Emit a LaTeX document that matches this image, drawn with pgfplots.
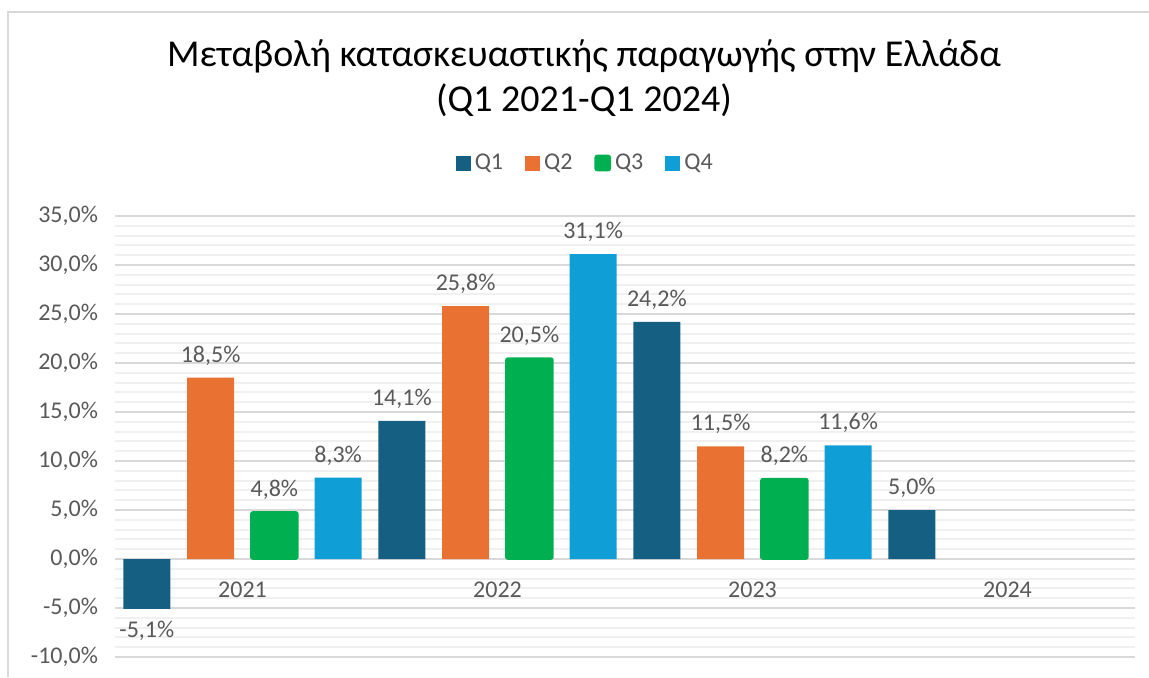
\documentclass[border=0pt]{standalone}
\usepackage{pgfplots}
\pgfplotsset{compat=1.18}
\usepackage{fontspec}
\setmainfont{Carlito}
\definecolor{qa}{HTML}{156082}
\definecolor{qb}{HTML}{E97132}
\definecolor{qc}{HTML}{00B050}
\definecolor{qd}{HTML}{0F9ED5}
\definecolor{txt}{HTML}{595959}
\definecolor{majg}{HTML}{D9D9D9}
\definecolor{ming}{HTML}{F0F0F0}
\begin{document}
\begin{tikzpicture}
\useasboundingbox (0,0) rectangle (574.5pt,338.5pt);
\draw[majg, line width=1pt] (4pt,0) -- (4pt,332.5pt) -- (574.5pt,332.5pt);
\node[align=center, font=\fontsize{19pt}{22.5pt}\selectfont] at (292pt,299.5pt)
  {Μεταβολή κατασκευαστικής παραγωγής στην Ελλάδα\\(Q1 2021-Q1 2024)};
\begin{axis}[
  at={(57.5pt,10pt)}, anchor=south west,
  scale only axis, width=510pt, height=220.5pt,
  xmin=-0.5, xmax=15.5, ymin=-10, ymax=35,
  axis x line=middle, axis y line=left,
  x axis line style={draw=majg, line width=1pt, -},
  y axis line style={draw=none},
  major tick length=0pt, minor tick length=0pt,
  xtick={1.5,5.5,9.5,13.5},
  xticklabels={2021,2022,2023,2024},
  xticklabel style={font=\fontsize{12pt}{14pt}\selectfont, text=txt, yshift=-8pt},
  ytick={-10,-5,...,35},
  minor ytick={-9,-8,...,34},
  ymajorgrids, yminorgrids,
  major grid style={majg, line width=1pt},
  minor grid style={ming, line width=1pt},
  /pgf/number format/assume math mode=true,
  yticklabel={\pgfmathprintnumber[fixed,fixed zerofill,precision=1,use comma]{\tick}\%},
  yticklabel style={font=\fontsize{12pt}{14pt}\selectfont, text=txt, xshift=-5pt},
  ybar, bar width=23.5pt, bar shift=0pt,
  nodes near coords={\pgfmathprintnumber[fixed,fixed zerofill,precision=1,use comma]{\pgfplotspointmeta}\%},
  nodes near coords style={font=\fontsize{12pt}{14pt}\selectfont, text=txt, inner sep=6pt},
  legend style={at={(0.462,1.0)}, anchor=center, yshift=26.5pt, draw=none, fill=none,
    legend columns=-1, font=\fontsize{12pt}{14pt}\selectfont, text=txt,
    /tikz/every even column/.append style={column sep=9pt}},
  legend image code/.code={\fill[#1] (0pt,-3.75pt) rectangle (7.5pt,3.75pt);},
]
\addplot[fill=qa, draw=none] coordinates {(0,-5.1) (4,14.1) (8,24.2) (12,5.0)};
\addplot[fill=qb, draw=none] coordinates {(1,18.5) (5,25.8) (9,11.5)};
\addplot[fill=qc, draw=qc, line width=0.8pt, rounded corners=1pt] coordinates {(2,4.8) (6,20.5) (10,8.2)};
\addplot[fill=qd, draw=none] coordinates {(3,8.3) (7,31.1) (11,11.6)};
\legend{Q1,Q2,Q3,Q4}
\end{axis}
\end{tikzpicture}
\end{document}
